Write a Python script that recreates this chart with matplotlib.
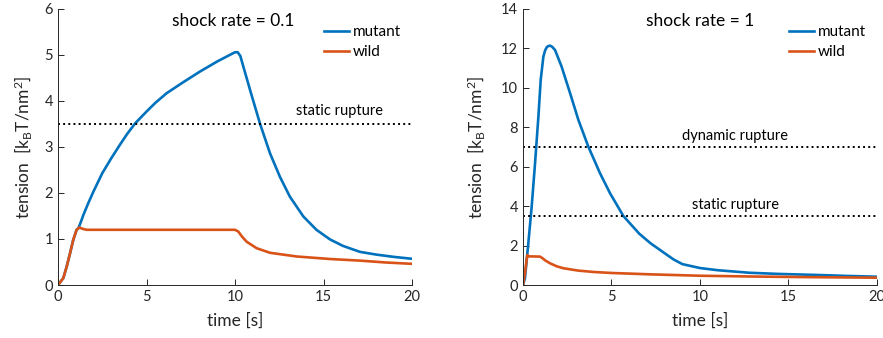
import numpy as np
import matplotlib
matplotlib.use('Agg')
import matplotlib.pyplot as plt

plt.rcParams['font.family'] = ['Lato', 'DejaVu Sans']
plt.rcParams['mathtext.default'] = 'regular'

# shock rate = 0.1
t1_mut = [0, 0.3, 0.49, 0.68, 0.86, 1.05, 1.15, 1.3, 1.43, 1.71, 2.0, 2.5, 3.0, 3.5, 3.9,
          4.35, 5.0, 5.5, 6.14, 7.0, 8.02, 9.0, 9.6, 10.0, 10.15, 10.3, 10.47, 10.85,
          11.41, 11.98, 12.54, 13.1, 13.86, 14.6, 15.37, 16.1, 17.06, 18.0, 19.0, 20.0]
v1_mut = [0, 0.15, 0.4, 0.69, 0.98, 1.2, 1.23, 1.38, 1.52, 1.78, 2.03, 2.43, 2.75, 3.05, 3.28,
          3.51, 3.77, 3.96, 4.17, 4.39, 4.64, 4.86, 4.98, 5.06, 5.06, 4.98, 4.75, 4.24,
          3.51, 2.86, 2.35, 1.92, 1.49, 1.2, 0.99, 0.85, 0.72, 0.66, 0.61, 0.57]
t1_wild = [0, 0.3, 0.49, 0.68, 0.86, 1.05, 1.2, 1.4, 1.62, 10.0, 10.19, 10.4, 10.66, 11.22,
           11.98, 13.48, 15.37, 17.06, 18.5, 20.0]
v1_wild = [0, 0.15, 0.4, 0.69, 0.98, 1.2, 1.25, 1.22, 1.2, 1.2, 1.16, 1.05, 0.94, 0.8,
           0.7, 0.62, 0.565, 0.53, 0.49, 0.46]

# shock rate = 1
t2_mut = [0, 0.11, 0.3, 0.49, 0.68, 0.87, 1.0, 1.15, 1.25, 1.34, 1.43, 1.53, 1.65, 1.81, 2.18,
          2.66, 3.13, 3.69, 4.35, 4.92, 5.67, 6.57, 7.2, 8.02, 8.5, 9.0, 9.5, 10.0, 11.0,
          12.8, 14.5, 16.6, 18.3, 20.0]
v2_mut = [0, 0.34, 2.11, 3.97, 6.17, 8.54, 10.4, 11.58, 11.9, 12.06, 12.12, 12.14, 12.08, 11.92,
          11.08, 9.73, 8.37, 7.02, 5.67, 4.65, 3.5, 2.6, 2.12, 1.6, 1.3, 1.06, 0.96, 0.86,
          0.75, 0.62, 0.56, 0.51, 0.46, 0.42]
t2_wild = [0, 0.11, 0.24, 0.35, 0.5, 0.96, 1.1, 1.25, 1.53, 1.9, 2.28, 3.12, 4.0, 5.0, 7.2,
           10.0, 13.0, 16.0, 20.0]
v2_wild = [0, 0.6, 1.52, 1.45, 1.45, 1.44, 1.36, 1.25, 1.1, 0.95, 0.85, 0.73, 0.66, 0.61,
           0.54, 0.47, 0.43, 0.4, 0.37]

static_rupture = 3.5
dynamic_rupture = 7.0

blue = '#0072BD'
orange = '#D95319'
grey = '#262626'

fig = plt.figure(figsize=(8.83, 3.38), dpi=100)
ax1 = fig.add_axes([0.0657, 0.1568, 0.4009, 0.8166])
ax2 = fig.add_axes([0.5923, 0.1568, 0.4009, 0.8166])


def style(ax, ymax, yticks, ypad):
    ax.set_xlim(0, 20)
    ax.set_ylim(0, ymax)
    ax.set_xticks([0, 5, 10, 15, 20])
    ax.set_yticks(yticks)
    for s in ['top', 'right']:
        ax.spines[s].set_visible(False)
    for s in ['left', 'bottom']:
        ax.spines[s].set_color(grey)
        ax.spines[s].set_linewidth(0.7)
    ax.tick_params(direction='in', length=4, width=0.7, colors=grey, labelsize=10.5)
    ax.set_xlabel('time [s]', fontsize=12.5, color=grey, labelpad=6)
    ax.set_ylabel('tension  [k$_B$T/nm$^2$]', fontsize=12.5, color=grey, labelpad=ypad)


ax1.plot(t1_mut, v1_mut, color=blue, lw=1.9, label='mutant')
ax1.plot(t1_wild, v1_wild, color=orange, lw=1.9, label='wild')
ax1.axhline(static_rupture, color='k', ls=':', lw=1.4)
ax1.text(15.9, 3.62, 'static rupture', ha='center', va='bottom', fontsize=10.5)
ax1.text(9.9, 5.74, 'shock rate = 0.1', ha='center', va='center', fontsize=12.5)
style(ax1, 6, range(0, 7), 7.5)
ax1.legend(loc='upper right', frameon=False, fontsize=11, handlelength=1.6,
           handletextpad=0.25, borderaxespad=0.1, labelspacing=0.4,
           bbox_to_anchor=(0.99, 0.97))

ax2.plot(t2_mut, v2_mut, color=blue, lw=1.9, label='mutant')
ax2.plot(t2_wild, v2_wild, color=orange, lw=1.9, label='wild')
ax2.axhline(static_rupture, color='k', ls=':', lw=1.4)
ax2.axhline(dynamic_rupture, color='k', ls=':', lw=1.4)
ax2.text(12.0, 3.7, 'static rupture', ha='center', va='bottom', fontsize=10.5)
ax2.text(12.0, 7.2, 'dynamic rupture', ha='center', va='bottom', fontsize=10.5)
ax2.text(10.0, 13.4, 'shock rate = 1', ha='center', va='center', fontsize=12.5)
style(ax2, 14, range(0, 15, 2), 10)
ax2.legend(loc='upper right', frameon=False, fontsize=11, handlelength=1.6,
           handletextpad=0.25, borderaxespad=0.1, labelspacing=0.4,
           bbox_to_anchor=(0.99, 0.97))

fig.savefig('out.png', dpi=100)
